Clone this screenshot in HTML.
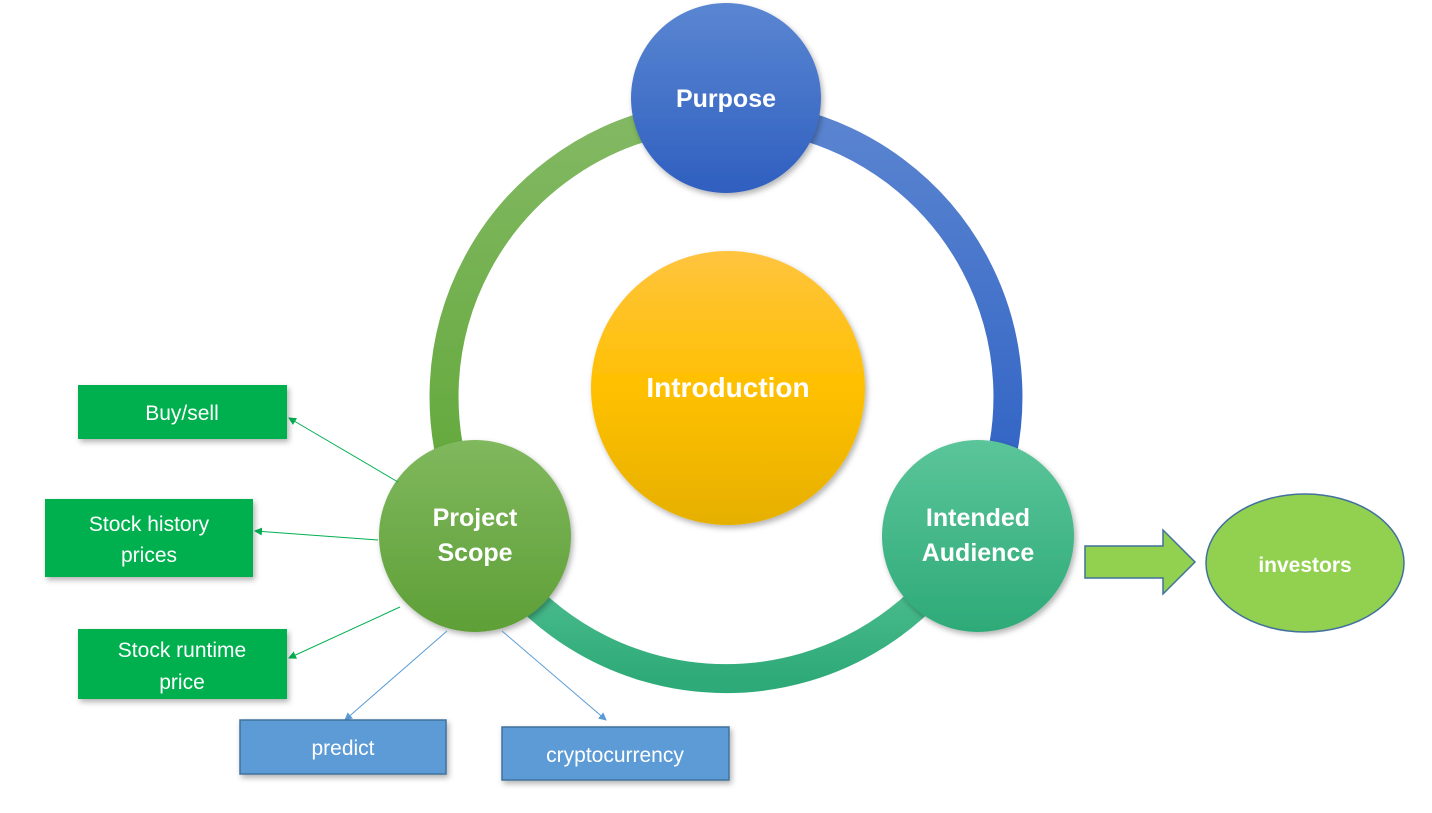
<!DOCTYPE html>
<html><head><meta charset="utf-8"><style>
body{margin:0;background:#fff;width:1432px;height:808px;overflow:hidden;font-family:"Liberation Sans",sans-serif}
</style></head><body>
<svg width="1432" height="808" viewBox="0 0 1432 808" xmlns="http://www.w3.org/2000/svg">
<defs>
<linearGradient id="gb" x1="0" y1="0" x2="0" y2="1"><stop offset="0" stop-color="#5a86d2"/><stop offset="1" stop-color="#2f5fbf"/></linearGradient>
<linearGradient id="gy" x1="0" y1="0" x2="0" y2="1"><stop offset="0" stop-color="#ffc43f"/><stop offset="0.5" stop-color="#ffc000"/><stop offset="1" stop-color="#e6b000"/></linearGradient>
<linearGradient id="gg" x1="0" y1="0" x2="0" y2="1"><stop offset="0" stop-color="#80b85e"/><stop offset="1" stop-color="#5e9f36"/></linearGradient>
<linearGradient id="gt" x1="0" y1="0" x2="0" y2="1"><stop offset="0" stop-color="#5bc59a"/><stop offset="1" stop-color="#2eaa78"/></linearGradient>
<linearGradient id="rg" x1="0" y1="0" x2="0" y2="1"><stop offset="0" stop-color="#82b862"/><stop offset="1" stop-color="#62a83a"/></linearGradient>
<linearGradient id="rb" x1="0" y1="0" x2="0" y2="1"><stop offset="0" stop-color="#5a84d0"/><stop offset="1" stop-color="#2f62c4"/></linearGradient>
<filter id="sh" x="-20%" y="-20%" width="140%" height="140%"><feDropShadow dx="2" dy="3" stdDeviation="3" flood-opacity="0.3"/></filter>
<marker id="ag" markerWidth="8" markerHeight="8" refX="7" refY="4" orient="auto"><path d="M0,0 L8,4 L0,8 z" fill="#00b050"/></marker>
<marker id="ab" markerWidth="8" markerHeight="8" refX="7" refY="4" orient="auto"><path d="M0,0 L8,4 L0,8 z" fill="#5b9bd5"/></marker>
</defs>
<path d="M 461 493 A 282 282 0 0 1 658 123" fill="none" stroke="url(#rg)" stroke-width="29"/>
<path d="M 794 123 A 282 282 0 0 1 991 493" fill="none" stroke="url(#rb)" stroke-width="29"/>
<path d="M 970 538 A 282 282 0 0 1 482 538" fill="none" stroke="url(#gt)" stroke-width="29"/>
<circle cx="726" cy="98" r="95" fill="url(#gb)" filter="url(#sh)"/>
<circle cx="728" cy="388" r="137" fill="url(#gy)" filter="url(#sh)"/>
<circle cx="475" cy="536" r="96" fill="url(#gg)" filter="url(#sh)"/>
<circle cx="978" cy="536" r="96" fill="url(#gt)" filter="url(#sh)"/>
<g fill="#fff" font-weight="bold" text-anchor="middle" font-family="Liberation Sans,sans-serif">
<text x="726" y="107" font-size="25">Purpose</text>
<text x="728" y="397" font-size="28">Introduction</text>
<text x="475" y="526" font-size="25">Project</text>
<text x="475" y="561" font-size="25">Scope</text>
<text x="978" y="526" font-size="25">Intended</text>
<text x="978" y="561" font-size="25">Audience</text>
</g>
<g stroke="#00b050" stroke-width="1">
<line x1="398" y1="482" x2="289" y2="418" marker-end="url(#ag)"/>
<line x1="378" y1="540" x2="255" y2="531" marker-end="url(#ag)"/>
<line x1="400" y1="607" x2="289" y2="658" marker-end="url(#ag)"/>
</g>
<g stroke="#5b9bd5" stroke-width="1">
<line x1="447" y1="631" x2="345" y2="720" marker-end="url(#ab)"/>
<line x1="502" y1="631" x2="606" y2="720" marker-end="url(#ab)"/>
</g>
<g filter="url(#sh)">
<rect x="78" y="385" width="209" height="54" fill="#00b050"/>
<rect x="45" y="499" width="208" height="78" fill="#00b050"/>
<rect x="78" y="629" width="209" height="70" fill="#00b050"/>
<rect x="240" y="720" width="206" height="54" fill="#5b9bd5" stroke="#41719c" stroke-width="1.5"/>
<rect x="502" y="727" width="227" height="53" fill="#5b9bd5" stroke="#41719c" stroke-width="1.5"/>
</g>
<g fill="#fff" font-size="21" text-anchor="middle" font-family="Liberation Sans,sans-serif">
<text x="182" y="420">Buy/sell</text>
<text x="149" y="531">Stock history</text>
<text x="149" y="562">prices</text>
<text x="182" y="657">Stock runtime</text>
<text x="182" y="689">price</text>
<text x="343" y="755">predict</text>
<text x="615" y="762">cryptocurrency</text>
</g>
<path d="M1085,546 L1163,546 L1163,530 L1195,562 L1163,594 L1163,578 L1085,578 Z" fill="#92d050" stroke="#41719c" stroke-width="1.5"/>
<ellipse cx="1305" cy="563" rx="99" ry="69" fill="#92d050" stroke="#41719c" stroke-width="1.5"/>
<text x="1305" y="572" fill="#fff" font-weight="bold" font-size="21" text-anchor="middle" font-family="Liberation Sans,sans-serif">investors</text>
</svg>
</body></html>
